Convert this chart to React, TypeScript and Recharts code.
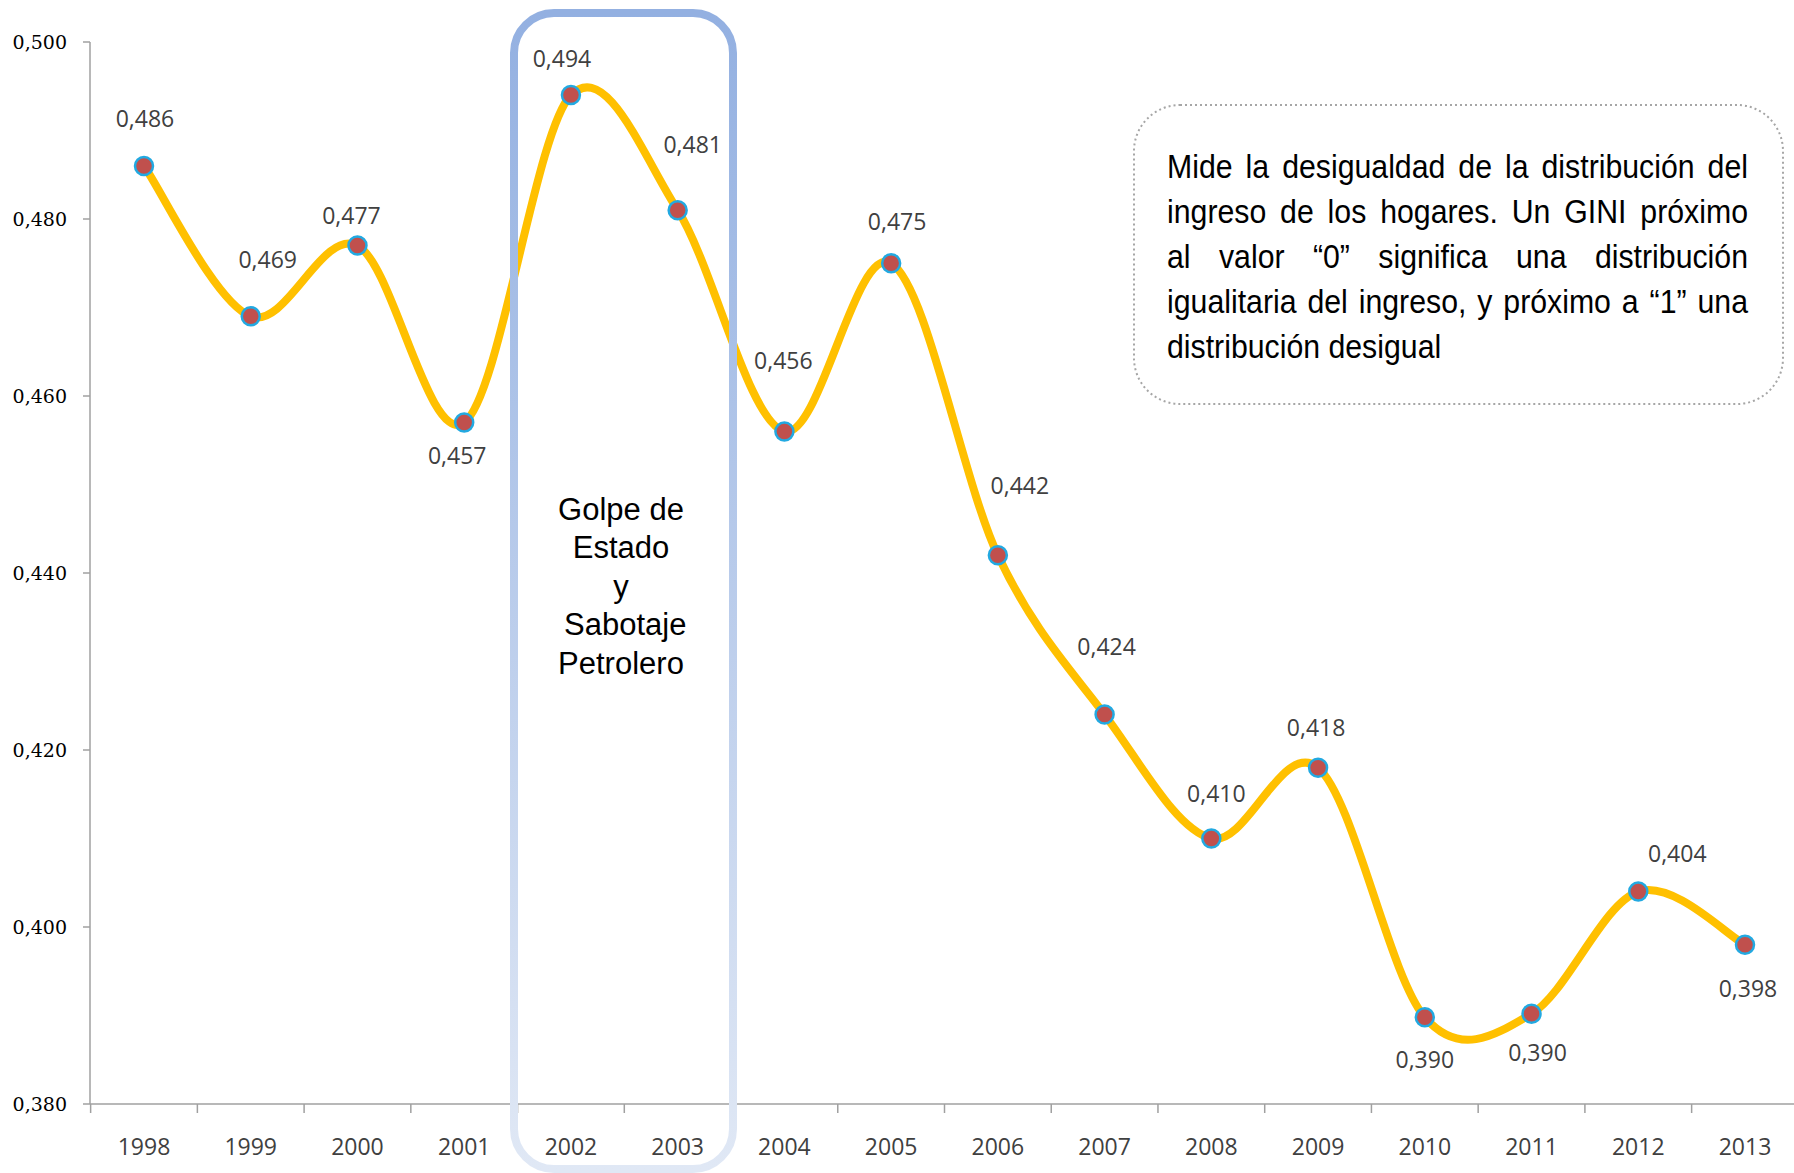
import React from 'react';
import { LineChart, Line, XAxis, YAxis, LabelList } from 'recharts';

const years = ['1998', '1999', '2000', '2001', '2002', '2003', '2004', '2005', '2006', '2007', '2008', '2009', '2010', '2011', '2012', '2013'];
const gini = [0.486, 0.469, 0.477, 0.457, 0.494, 0.481, 0.456, 0.475, 0.442, 0.424, 0.41, 0.418, 0.3898, 0.3902, 0.404, 0.398];
const yTicks = [0.38, 0.4, 0.42, 0.44, 0.46, 0.48, 0.5];

const eventLines = ['Golpe de', 'Estado', 'y', ' Sabotaje', 'Petrolero'];
const noteLines = [
  'Mide la desigualdad de la distribución del',
  'ingreso de los hogares. Un GINI próximo',
  'al valor “0” significa una distribución',
  'igualitaria del ingreso, y próximo a “1” una',
  'distribución desigual',
];

// where each value label sits relative to its point (dx, dy)
const labelOffsets = [
  [1, -48], [17, -57], [-6, -31], [-7, 32], [-9, -37], [15, -66], [-1, -71], [6, -42],
  [22, -70], [2, -69], [5, -46], [-2, -41], [0, 42], [6, 38], [39, -39], [3, 43],
];

const data = years.map((year, i) => ({ year, gini: gini[i] }));

const W = 1794;
const H = 1173;
const Y_AXIS_W = 90;
const PAD_L = 54;
const PAD_R = 49;
const STEP = (W - Y_AXIS_W - PAD_L - PAD_R) / (years.length - 1);
const AXIS = '#A0A0A0';
const NOTE_SCALE = 0.89;

const fmt = (v: number) => v.toFixed(3).replace('.', ',');

// Excel style smoothed line (catmull-rom like bezier)
const excelCurve = (context: any) => {
  let pts: number[][] = [];
  return {
    areaStart() {},
    areaEnd() {},
    lineStart() { pts = []; },
    point(x: number, y: number) { pts.push([+x, +y]); },
    lineEnd() {
      if (!pts.length) return;
      context.moveTo(pts[0][0], pts[0][1]);
      for (let i = 0; i < pts.length - 1; i++) {
        const p0 = pts[i - 1] || pts[i];
        const p1 = pts[i];
        const p2 = pts[i + 1];
        const p3 = pts[i + 2] || p2;
        context.bezierCurveTo(
          p1[0] + (p2[0] - p0[0]) / 6, p1[1] + (p2[1] - p0[1]) / 6,
          p2[0] - (p3[0] - p1[0]) / 6, p2[1] - (p3[1] - p1[1]) / 6,
          p2[0], p2[1]
        );
      }
    },
  };
};

const XTick = (props: any) => {
  const { x, y, payload } = props;
  return (
    <g>
      <line x1={x - STEP / 2} y1={y} x2={x - STEP / 2} y2={y + 9} stroke={AXIS} strokeWidth={1.5} />
      <text x={x} y={y + 51} textAnchor="middle" fontFamily="'Open Sans', sans-serif" fontSize={23} fill="#404040">
        {payload.value}
      </text>
    </g>
  );
};

const ValueLabel = (props: any) => {
  const { x, y, index, value } = props;
  const [dx, dy] = labelOffsets[index] || [0, -40];
  return (
    <text x={x + dx} y={y + dy} textAnchor="middle" dominantBaseline="central" fontFamily="'Open Sans', sans-serif" fontSize={23} fill="#404040">
      {fmt(value)}
    </text>
  );
};

export default function App() {
  return (
    <div style={{ position: 'absolute', left: 0, top: 0, width: W, height: H, background: '#fff' }}>
      <LineChart width={W} height={H} data={data} margin={{ top: 42, right: 0, bottom: 0, left: 0 }}>
        <XAxis
          dataKey="year"
          height={69}
          padding={{ left: PAD_L, right: PAD_R }}
          axisLine={{ stroke: AXIS, strokeWidth: 1.5 }}
          tickLine={false}
          tickSize={0}
          tickMargin={0}
          interval={0}
          tick={<XTick />}
        />
        <YAxis
          width={Y_AXIS_W}
          domain={[0.38, 0.5]}
          ticks={yTicks}
          tickFormatter={fmt}
          axisLine={{ stroke: AXIS, strokeWidth: 1.5 }}
          tickLine={{ stroke: AXIS, strokeWidth: 1.5 }}
          tickSize={7}
          tickMargin={16}
          tick={{ fill: '#000', fontSize: 19, fontFamily: "'DejaVu Serif', serif" }}
        />
        <Line
          dataKey="gini"
          type={excelCurve as any}
          stroke="#FFC000"
          strokeWidth={8}
          dot={{ r: 9, fill: '#C0504D', stroke: '#22A9E1', strokeWidth: 2.5 }}
          activeDot={false}
          isAnimationActive={false}
        >
          <LabelList dataKey="gini" content={<ValueLabel />} />
        </Line>
      </LineChart>

      <svg width={W} height={H} style={{ position: 'absolute', left: 0, top: 0, pointerEvents: 'none' }}>
        <defs>
          <linearGradient id="eventStroke" x1="0" y1="0" x2="0" y2="1">
            <stop offset="0%" stopColor="#93B0E1" />
            <stop offset="100%" stopColor="#E0E8F5" />
          </linearGradient>
        </defs>
        <rect x={514} y={13} width={219} height={1156} rx={40} ry={40} fill="none" stroke="url(#eventStroke)" strokeWidth={8} />
        {eventLines.map((t, i) => (
          <text key={i} x={621} y={509 + i * 38.6} textAnchor="middle" dominantBaseline="central" fontFamily="'Liberation Sans', Arial, sans-serif" fontSize={31} fill="#000" style={{ whiteSpace: 'pre' }}>
            {t}
          </text>
        ))}
        <rect x={1134} y={105} width={649} height={299} rx={46} ry={46} fill="#fff" stroke="#A6A6A6" strokeWidth={2} strokeDasharray="2 3" />
      </svg>

      <div
        style={{
          position: 'absolute',
          left: 1167,
          top: 144,
          width: 581 / NOTE_SCALE,
          transform: `scaleX(${NOTE_SCALE})`,
          transformOrigin: 'left top',
          fontFamily: "'Liberation Sans', Arial, sans-serif",
          fontSize: 34,
          lineHeight: '45px',
          color: '#000',
        }}
      >
        {noteLines.map((t, i) => (
          <div key={i} style={{ textAlign: 'justify', textAlignLast: i < noteLines.length - 1 ? 'justify' : 'left' }}>
            {t}
          </div>
        ))}
      </div>
    </div>
  );
}
